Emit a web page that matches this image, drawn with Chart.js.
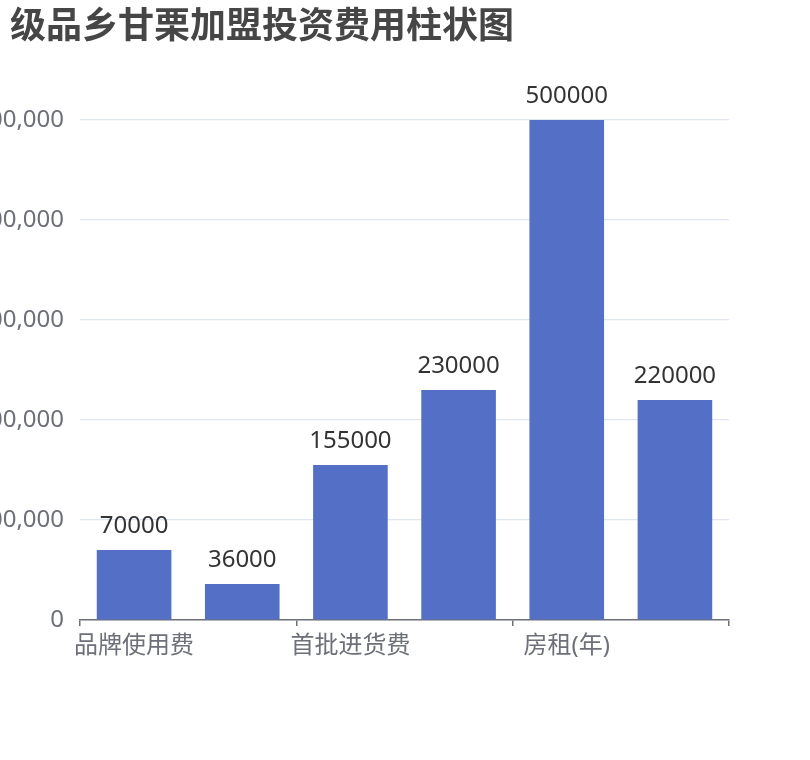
<!DOCTYPE html>
<html>
<head>
<meta charset="utf-8">
<script src="https://cdn.jsdelivr.net/npm/chart.js@4/dist/chart.umd.min.js"></script>
<style>
  html, body { margin: 0; padding: 0; background: #fff; }
  #wrap { width: 810px; height: 760px; }
</style>
</head>
<body>
<div id="wrap"><canvas id="chart" width="810" height="760"></canvas></div>
<script>
// chart data
const titleText = "级品乡甘栗加盟投资费用柱状图";
const categories = ["品牌使用费", "装修费", "首批进货费", "设备费", "房租(年)", "流动资金"];
const costs = [70000, 36000, 155000, 230000, 500000, 220000];
const yTicks = [0, 100000, 200000, 300000, 400000, 500000];

const FONT = "'Noto Sans', 'Noto Sans CJK SC', sans-serif";

// draws the title and the value above each bar
const labelPlugin = {
    id: "labels",
    afterDatasetsDraw(chart) {
        const ctx = chart.ctx;
        ctx.save();
        ctx.font = "bold 36px 'Noto Sans CJK SC', sans-serif";
        ctx.fillStyle = "#464646";
        ctx.textAlign = "left";
        ctx.textBaseline = "top";
        ctx.fillText(titleText, 10, 6);

        ctx.font = "24px " + FONT;
        ctx.fillStyle = "#333";
        ctx.textAlign = "center";
        ctx.textBaseline = "alphabetic";
        chart.getDatasetMeta(0).data.forEach((bar, i) => {
            ctx.fillText(String(costs[i]), bar.x, bar.y - 17);
        });
        ctx.restore();
    }
};

const ctx = document.getElementById("chart");
const chart = new Chart(ctx, {
    type: "bar",
    data: {
        labels: categories,
        datasets: [
            {
                data: costs,
                backgroundColor: "#5470c6",
                categoryPercentage: 1,
                barPercentage: 0.69,
            },
        ],
    },
    options: {
        responsive: false,
        animation: false,
        layout: { padding: { top: 120, right: 81, bottom: 0, left: 0 } },
        plugins: {
            legend: { display: false },
            tooltip: { enabled: false },
        },
        scales: {
            x: {
                offset: true,
                afterFit: (scale) => { scale.height = 140; },
                grid: {
                    offset: true,
                    drawOnChartArea: false,
                    tickLength: 6,
                    lineWidth: 1.5,
                    color: (c) => (c.index === undefined || c.index % 2 === 0) ? "#6e7079" : "rgba(0,0,0,0)",
                },
                border: { display: true, color: "#6e7079", width: 1.5 },
                ticks: {
                    autoSkip: false,
                    maxRotation: 0,
                    padding: 6,
                    color: "#6e7079",
                    font: { family: FONT, size: 24 },
                    callback: (v, i) => (i % 2 === 0 ? categories[i] : ""),
                },
            },
            y: {
                min: 0,
                max: 500000,
                afterFit: (scale) => { scale.width = 80; },
                afterBuildTicks: (scale) => { scale.ticks = yTicks.map((v) => ({ value: v })); },
                grid: { color: "#e0e6f1", lineWidth: 1.2, drawTicks: false },
                border: { display: false },
                ticks: {
                    padding: 16,
                    color: "#6e7079",
                    font: { family: FONT, size: 24 },
                    callback: (v) => v.toLocaleString("en-US"),
                },
            },
        },
    },
    plugins: [labelPlugin],
});
</script>
</body>
</html>
